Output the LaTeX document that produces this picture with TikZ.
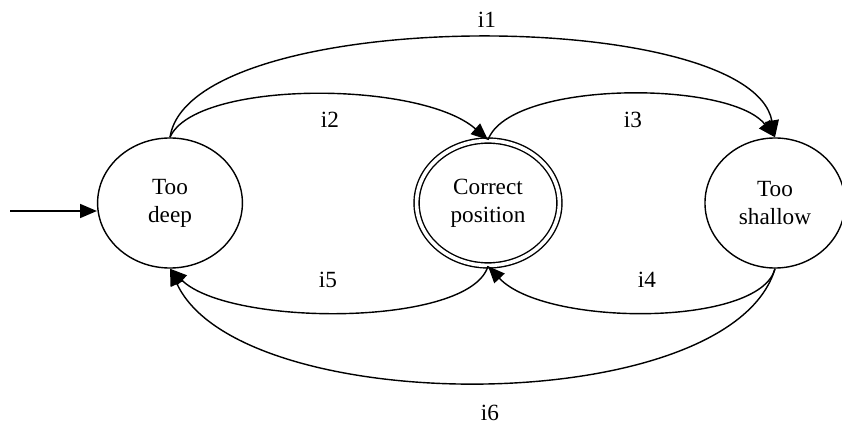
\documentclass[tikz,border=0pt]{standalone}
\usepackage{fontspec}
\setmainfont{Liberation Serif}
\usetikzlibrary{shapes.geometric,arrows.meta}
\begin{document}
\begin{tikzpicture}[x=0.025cm, y=-0.025cm, line width=1pt,
  font=\fontsize{16.5}{20}\selectfont,
  statenode/.style={draw, ellipse, align=center, inner sep=0pt,
    minimum width=3.62cm, minimum height=3.25cm},
  finalnode/.style={statenode, double, double distance=2.6pt,
    minimum width=3.57cm, minimum height=3.12cm},
  trans/.style={-{Triangle[length=12pt,width=10pt]}}]
\useasboundingbox (0,0) rectangle (842,426);
\node[statenode] (deep) at (170,203) {Too\\deep};
\node[finalnode] (correct) at (488,203) {Correct\\position};
\node[statenode, minimum width=3.5cm] (shallow) at (775,203) {Too\\shallow};
\coordinate (init) at (10,211);
\draw[trans] (init) -- (init -| deep.west);
% upper transitions
\draw[trans] (deep.north) .. controls (190,5) and (750,5) .. (shallow.north);
\draw[trans] (deep.north) .. controls (195,80) and (420,80) .. (correct.north);
\draw[trans] (correct.north) .. controls (510,80) and (730,80) .. (shallow.north);
% lower transitions
\draw[trans] (shallow.south) .. controls (760,327) and (545,327) .. (correct.south);
\draw[trans] (correct.south) .. controls (470,327) and (230,327) .. (deep.south);
\draw[trans] (shallow.south) .. controls (730,420) and (240,420) .. (deep.south);
% labels
\node (lbl1) at (487,20) {i1};
\node (lbl2) at (330,120) {i2};
\node (lbl3) at (633,120) {i3};
\node (lbl4) at (647,280) {i4};
\node (lbl5) at (328,280) {i5};
\node (lbl6) at (490,413) {i6};
\end{tikzpicture}
\end{document}
